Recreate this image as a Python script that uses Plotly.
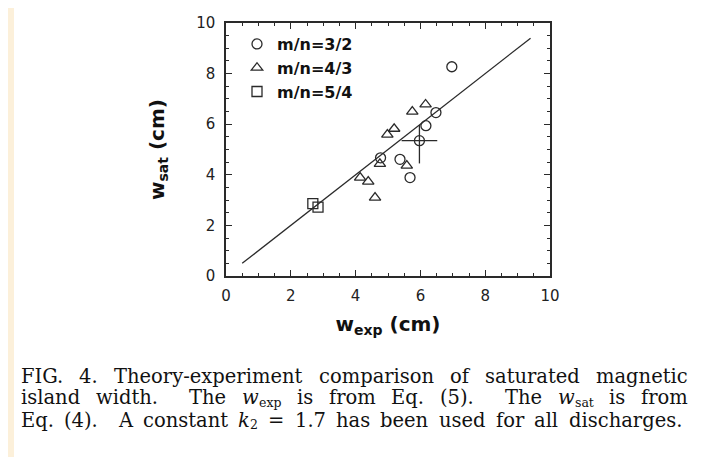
import plotly.graph_objects as go

# ---------------- data ----------------
circ_x = [6.97, 6.48, 6.17, 5.97, 5.37, 5.68, 4.77]
circ_y = [8.27, 6.46, 5.94, 5.35, 4.61, 3.89, 4.67]
circ_ex = [0, 0, 0, 0.55, 0, 0, 0]
circ_ey_plus = [0, 0, 0, 0.62, 0, 0, 0]
circ_ey_minus = [0, 0, 0, 0.90, 0, 0, 0]

tri_x = [6.16, 5.75, 5.19, 4.98, 4.75, 5.58, 4.14, 4.39, 4.60]
tri_y = [6.78, 6.50, 5.82, 5.59, 4.43, 4.36, 3.89, 3.73, 3.10]

sq_x = [2.68, 2.84]
sq_y = [2.86, 2.72]

fit_x = [0.5, 9.4]
fit_y = [0.5, 9.4]

x_ticks = [0, 2, 4, 6, 8, 10]
y_ticks = [0, 2, 4, 6, 8, 10]

series_names = ["m/n=3/2", "m/n=4/3", "m/n=5/4"]

# caption words; (main, subscript, italic); a "|" token marks a sentence gap
caption_lines = [
    [("FIG.", "", False), ("4.", "", False), ("Theory-experiment", "", False),
     ("comparison", "", False), ("of", "", False), ("saturated", "", False),
     ("magnetic", "", False)],
    [("island", "", False), ("width.", "", False), "|", ("The", "", False), ("w", "exp", True),
     ("is", "", False), ("from", "", False), ("Eq.", "", False), ("(5).", "", False), "|",
     ("The", "", False), ("w", "sat", True), ("is", "", False), ("from", "", False)],
    [("Eq.", "", False), ("(4).", "", False), "|", ("A", "", False), ("constant", "", False),
     ("k", "2", True), ("=", "", False), ("1.7", "", False), ("has", "", False),
     ("been", "", False), ("used", "", False), ("for", "", False), ("all", "", False),
     ("discharges.", "", False)],
]

# ---------------- layout geometry ----------------
# the page has an 8px body margin, so screen pixel p maps to figure pixel p - OFF;
# the figure is sized so that the page fits the window without scrollbars
OFF = 8
W, H = 712 - 2 * OFF, 465 - 2 * OFF
SL, SR, ST, SB = 226, 550, 23, 276          # plot frame in screen pixels
L, R, T, B = SL - OFF, SR - OFF, ST - OFF, SB - OFF

caption_spans = [(21, 688), (21, 688), (21, 682)]   # screen pixels
caption_y = [376, 398, 420]


def px_x(p):          # screen x -> paper x
    return (p - SL) / (SR - SL)


def px_y(p):          # screen y -> paper y
    return (SB - p) / (SB - ST)


# approximate advance widths of DejaVu Serif (em)
CW = {" ": .318, ".": .318, "-": .338, "(": .390, ")": .390, "=": .838,
      "A": .722, "E": .729, "F": .690, "G": .770, "I": .373, "T": .686,
      "a": .596, "b": .641, "c": .560, "d": .641, "e": .593, "f": .370, "g": .641,
      "h": .645, "i": .320, "k": .613, "l": .320, "m": .952, "n": .645, "o": .601,
      "p": .641, "q": .641, "r": .478, "s": .513, "t": .402, "u": .645, "w": .854,
      "x": .584, "y": .584}


def text_w(s, size):
    return sum(CW.get(ch, .636) for ch in s) * size


CAP_FONT = "DejaVu Serif"
CAP_SIZE = 19.5
SUB_SIZE = 12.5

INK = "#2a2a2a"
marker_line = dict(color=INK, width=1.3)

fig = go.Figure()

fig.add_trace(go.Scatter(
    x=fit_x, y=fit_y, mode="lines", line=dict(color=INK, width=1.3),
    showlegend=False, hoverinfo="skip"))

fig.add_trace(go.Scatter(
    x=circ_x, y=circ_y, mode="markers", name=series_names[0],
    marker=dict(symbol="circle-open", size=10, color=INK, line=marker_line),
    error_x=dict(type="data", array=circ_ex, visible=True, width=0, color=INK, thickness=1.3),
    error_y=dict(type="data", array=circ_ey_plus, arrayminus=circ_ey_minus, symmetric=False,
                 visible=True, width=0, color=INK, thickness=1.3)))

fig.add_trace(go.Scatter(
    x=tri_x, y=tri_y, mode="markers", name=series_names[1],
    marker=dict(symbol="triangle-up-open", size=10, color=INK, line=marker_line)))

fig.add_trace(go.Scatter(
    x=sq_x, y=sq_y, mode="markers", name=series_names[2],
    marker=dict(symbol="square-open", size=10, color=INK, line=marker_line)))

axis_common = dict(
    automargin=False,
    showgrid=False, zeroline=False, showline=True, linecolor=INK, linewidth=1.5,
    mirror="allticks", ticks="inside", ticklen=6, tickwidth=1.2, tickcolor=INK,
    minor=dict(ticks="inside", ticklen=3, tickwidth=1, tickcolor=INK, dtick=0.5, showgrid=False),
    tickfont=dict(family="DejaVu Sans", size=15, color="#222"),
)

fig.update_xaxes(range=[0, 10], tickvals=x_ticks, ticktext=[str(v) for v in x_ticks],
                 ticklabelstandoff=5,
                 title=dict(text="<b>w<sub>exp</sub> (cm)</b>",
                            font=dict(family="DejaVu Sans", size=20, color="#111"), standoff=13),
                 **axis_common)
fig.update_yaxes(range=[0, 10], tickvals=y_ticks, ticktext=[str(v) for v in y_ticks],
                 ticklabelstandoff=6,
                 title=dict(text="<b>w<sub>sat</sub> (cm)</b>",
                            font=dict(family="DejaVu Sans", size=20, color="#111"), standoff=26),
                 **axis_common)

annotations = []
for words, (x0, x1), yy in zip(caption_lines, caption_spans, caption_y):
    items = []
    gap_units = 0
    pending = 0
    for tok in words:
        if tok == "|":
            pending += 1
            continue
        if items:
            gap_units += 1 + pending
            items.append((tok, 1 + pending))
        else:
            items.append((tok, 0))
        pending = 0
    widths = []
    for (main, sub, ital), _ in items:
        w = text_w(main, CAP_SIZE) + (text_w(sub, SUB_SIZE) if sub else 0)
        widths.append(w)
    extra = (x1 - x0 - sum(widths)) / max(gap_units, 1)
    cx = x0
    for ((main, sub, ital), g), w in zip(items, widths):
        cx += g * extra
        mtxt = f"<i>{main}</i>" if ital else main
        annotations.append(dict(
            text=mtxt, x=px_x(cx), y=px_y(yy), xref="paper", yref="paper",
            xanchor="left", yanchor="middle", showarrow=False, borderpad=0, borderwidth=0,
            font=dict(family=CAP_FONT, size=CAP_SIZE, color="#111")))
        if sub:
            sx = cx + text_w(main, CAP_SIZE)
            annotations.append(dict(
                text=sub, x=px_x(sx), y=px_y(yy + 4), xref="paper", yref="paper",
                xanchor="left", yanchor="middle", showarrow=False, borderpad=0, borderwidth=0,
                font=dict(family=CAP_FONT, size=SUB_SIZE, color="#111")))
        cx += w

shapes = [dict(type="rect", xref="paper", yref="paper", layer="below",
               x0=px_x(14), x1=px_x(720), y0=px_y(470), y1=px_y(0),
               fillcolor="white", line=dict(width=0))]

fig.update_layout(
    width=W, height=H,
    margin=dict(l=L, r=W - R, t=T, b=H - B, pad=0, autoexpand=False),
    paper_bgcolor="#FCF0DA", plot_bgcolor="white",
    showlegend=True,
    legend=dict(x=px_x(237), y=px_y(27), xanchor="left", yanchor="top",
                bgcolor="rgba(0,0,0,0)", borderwidth=0, tracegroupgap=0,
                font=dict(family="DejaVu Sans", size=16, color="#111", weight="bold"),
                itemwidth=30),
    annotations=annotations,
    shapes=shapes,
)

fig.write_html("out.html")
